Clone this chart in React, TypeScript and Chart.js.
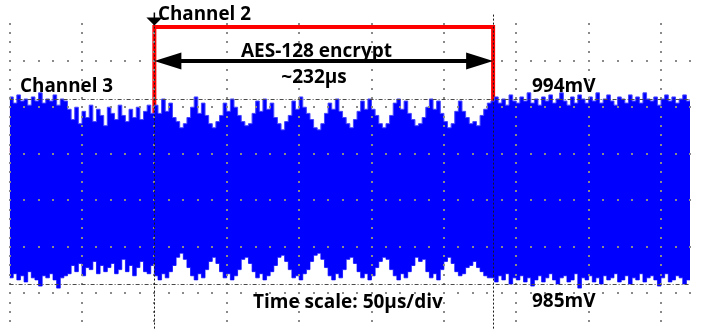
import { useEffect, useRef } from "react";
import { Chart, registerables } from "chart.js";

Chart.register(...registerables);

// ---- Data ----
// Channel 3 sampled every 2.5 µs from 0 to 470 µs (upper / lower noise envelope, mV)
const SAMPLE_STEP_US = 2.5;

const ch3Upper = [
  // 0 – 37.5 µs
  994.1, 993.8, 994.2, 993.9, 994.0, 993.7, 994.1, 993.9, 994.3, 993.8, 994.0, 993.9, 994.2, 993.7, 994.0, 993.9,
  // 40 – 97.5 µs
  993.5, 993.0, 993.6, 992.8, 993.4, 993.1, 993.7, 992.9, 993.5, 993.2, 992.7, 993.6,
  993.3, 993.0, 993.7, 993.2, 992.9, 993.5, 993.1, 993.6, 993.0, 993.4, 993.7, 993.3,
  // 100 – 330 µs (AES-128 encryption)
  993.7, 993.3, 994.0, 993.4, 993.8, 993.1, 992.9, 992.6, 992.8, 993.1,
  993.6, 994.1, 993.3, 993.8, 993.2, 992.8, 992.6, 992.9, 993.2, 993.8,
  993.4, 994.0, 993.6, 993.2, 992.9, 992.7, 992.8, 993.3, 993.9, 993.4,
  994.0, 993.5, 993.8, 993.1, 992.8, 992.5, 992.9, 993.2, 993.9, 993.5,
  994.1, 993.6, 993.3, 993.0, 992.6, 992.5, 992.8, 993.3, 993.8, 993.5,
  994.0, 993.4, 993.1, 992.8, 992.6, 993.0, 993.4, 993.9, 993.5, 994.0,
  993.5, 993.2, 992.8, 992.6, 992.8, 993.2, 993.8, 994.0, 993.5, 993.9,
  993.3, 993.0, 992.7, 992.8, 993.1, 993.6, 994.0, 993.5, 993.9, 993.3,
  992.9, 992.6, 992.8, 993.4, 993.9, 993.4, 993.1, 992.8, 992.9, 992.7,
  993.2, 993.5, 993.8,
  // 332.5 – 470 µs
  993.9, 994.1, 993.8, 994.0, 993.7, 994.2, 993.9, 993.8,
  994.1, 993.9, 994.3, 993.8, 994.0, 993.7, 994.1, 993.9,
  994.2, 993.8, 994.0, 994.3, 993.9, 993.7, 994.1, 993.8,
  994.2, 994.0, 993.8, 994.1, 993.9, 994.3, 993.8, 994.0,
  994.2, 993.9, 993.7, 994.1, 994.0, 993.8, 994.2, 993.9,
  994.1, 993.8, 994.3, 994.0, 993.9, 994.1, 993.7, 994.0,
  994.2, 993.9, 994.1, 993.8, 994.0, 994.2, 993.9, 994.0,
];

const ch3Lower = [
  // 0 – 37.5 µs
  985.3, 985.5, 985.2, 985.4, 985.1, 985.6, 985.3, 985.2, 984.9, 985.4, 985.3, 985.5, 985.2, 984.8, 985.3, 985.4,
  // 40 – 97.5 µs
  985.5, 985.9, 985.6, 986.0, 985.4, 985.8, 985.7, 986.1, 985.5, 985.9, 985.6, 985.8,
  986.0, 985.5, 985.7, 986.2, 985.6, 985.9, 985.4, 985.8, 986.1, 985.6, 985.5, 985.9,
  // 100 – 330 µs (AES-128 encryption)
  985.4, 985.2, 985.5, 985.3, 985.6, 985.9, 986.3, 986.5, 986.2, 985.8,
  985.4, 985.2, 985.5, 985.3, 985.7, 986.1, 986.3, 986.0, 985.6, 985.3,
  985.5, 985.2, 985.4, 985.7, 986.2, 986.3, 986.0, 985.6, 985.3, 985.5,
  985.2, 985.4, 985.6, 985.9, 986.3, 986.4, 986.1, 985.7, 985.3, 985.4,
  985.2, 985.5, 985.7, 986.1, 986.4, 986.5, 986.2, 985.8, 985.4, 985.2,
  985.5, 985.3, 985.7, 986.2, 986.3, 986.0, 985.6, 985.3, 985.5, 985.2,
  985.4, 985.8, 986.1, 986.3, 986.2, 985.7, 985.4, 985.2, 985.5, 985.3,
  985.6, 985.9, 986.3, 986.1, 986.2, 985.6, 985.3, 985.5, 985.2, 985.7,
  986.1, 986.3, 986.0, 985.6, 985.4, 985.5, 985.8, 985.9, 986.1, 985.8,
  985.6, 985.4, 985.3,
  // 332.5 – 470 µs
  985.3, 985.1, 985.4, 985.2, 985.5, 985.0, 985.3, 985.2,
  985.4, 985.1, 985.3, 984.9, 985.2, 985.4, 985.1, 985.3,
  985.5, 985.2, 985.0, 985.3, 985.4, 985.1, 985.2, 985.5,
  984.8, 985.3, 985.2, 985.4, 985.1, 985.3, 985.0, 985.4,
  985.2, 985.3, 985.5, 985.1, 985.2, 985.4, 985.0, 985.3,
  985.2, 985.5, 985.1, 985.3, 985.4, 985.2, 984.9, 985.3,
  985.5, 985.1, 985.2, 985.4, 985.3, 985.0, 985.2, 985.4,
];

// Channel 2 (trigger / encryption-active logic signal)
const ch2Times = [0, 100, 100, 334, 334, 470];
const ch2Levels = [0, 0, 1, 1, 0, 0];

// Cursors
const cursorTimes = [100, 334]; // µs
const cursorLevels = [994, 985]; // mV
const cursorLabels = ["994mV", "985mV"];

// Graticule
const timeGrid = [0, 50, 100, 150, 200, 250, 300, 350, 400, 450]; // µs, 50 µs/div
const voltGrid = [995.85, 993.59, 991.33, 989.08, 986.82, 984.56]; // mV
const SUBDIV = 5;

// Texts
const channel2Label = "Channel 2";
const channel3Label = "Channel 3";
const encryptLabel = "AES-128 encrypt";
const durationLabel = "~232µs";
const timeScaleLabel = "Time scale: 50µs/div";

// Text anchors in data coordinates (µs, mV)
const textMarks = [
  { text: channel2Label, t: 102.5, v: 997.84, align: "left", maxW: 93 },
  { text: encryptLabel, t: 212, v: 996.04, align: "center", maxW: 158 },
  { text: durationLabel, t: 210.3, v: 994.78, align: "center", maxW: 69 },
  { text: channel3Label, t: 7.2, v: 994.34, align: "left", maxW: 93 },
  { text: cursorLabels[0], t: 360.8, v: 994.34, align: "left", maxW: 67 },
  { text: cursorLabels[1], t: 360.8, v: 983.88, align: "left", maxW: 66 },
  { text: timeScaleLabel, t: 168.1, v: 983.83, align: "left", maxW: 198 },
];
const arrowLevel = 995.85; // mV

const FONT = 'bold 19px "Open Sans", "DejaVu Sans", sans-serif';
const GRID_COLOR = "#8a8a8a";

const scopePlugin = {
  id: "scopeAnnotations",
  afterDatasetsDraw(chart: any) {
    // dotted oscilloscope graticule, drawn over the trace
    const { ctx, chartArea, scales } = chart;
    const xs = scales.x;
    const ys = scales.y;
    const colPx = timeGrid.map((t) => xs.getPixelForValue(t));
    const rowPx = voltGrid.map((v) => ys.getPixelForValue(v));
    const dx = (colPx[1] - colPx[0]) / SUBDIV;
    const dy = (rowPx[1] - rowPx[0]) / SUBDIV;
    const bottom = chart.height;
    ctx.save();
    ctx.fillStyle = GRID_COLOR;
    colPx.forEach((px) => {
      const cx = Math.round(px) - 1;
      for (let y = rowPx[0]; y >= chartArea.top + 4; y -= dy) ctx.fillRect(cx, Math.round(y) - 1, 2, 2);
      for (let y = rowPx[0] + dy; y <= bottom; y += dy) ctx.fillRect(cx, Math.round(y) - 1, 2, 2);
    });
    rowPx.forEach((py) => {
      const cy = Math.round(py) - 1;
      for (let x = colPx[0]; x <= chartArea.right + 0.5; x += dx) ctx.fillRect(Math.round(x) - 1, cy, 2, 2);
    });
    ctx.restore();
  },
  afterDraw(chart: any) {
    const { ctx, chartArea, scales } = chart;
    const xs = scales.x;
    const ys = scales.y;
    const c2 = scales.ch2;
    ctx.save();

    // horizontal level cursors
    ctx.strokeStyle = "#4a4a4a";
    ctx.lineWidth = 1;
    ctx.setLineDash([4, 2, 1, 2]);
    cursorLevels.forEach((v) => {
      const py = Math.round(ys.getPixelForValue(v)) + 0.5;
      ctx.beginPath();
      ctx.moveTo(chartArea.left, py);
      ctx.lineTo(chartArea.right, py);
      ctx.stroke();
    });

    // vertical time cursors
    ctx.strokeStyle = "#1a1a1a";
    ctx.lineWidth = 1;
    ctx.setLineDash([2, 2]);
    cursorTimes.forEach((t) => {
      const px = Math.round(xs.getPixelForValue(t)) + 0.5;
      ctx.beginPath();
      ctx.moveTo(px, chartArea.top);
      ctx.lineTo(px, chart.height);
      ctx.stroke();
    });
    ctx.setLineDash([]);

    // trigger marker
    const tx = xs.getPixelForValue(cursorTimes[0]);
    const tip = c2.getPixelForValue(1) - 1.5;
    ctx.fillStyle = "#000";
    ctx.strokeStyle = "#000";
    ctx.lineWidth = 1.5;
    ctx.beginPath();
    ctx.moveTo(tx, tip - 13);
    ctx.lineTo(tx, tip - 6);
    ctx.stroke();
    ctx.beginPath();
    ctx.moveTo(tx, tip);
    ctx.lineTo(tx - 8, tip - 8);
    ctx.lineTo(tx + 8, tip - 8);
    ctx.closePath();
    ctx.fill();

    // double-headed duration arrow
    const ay = ys.getPixelForValue(arrowLevel);
    const x1 = xs.getPixelForValue(cursorTimes[0]);
    const x2 = xs.getPixelForValue(cursorTimes[1]);
    const headL = 27;
    const headW = 8.5;
    ctx.lineWidth = 4;
    ctx.beginPath();
    ctx.moveTo(x1 + headL - 2, ay);
    ctx.lineTo(x2 - headL + 2, ay);
    ctx.stroke();
    ctx.beginPath();
    ctx.moveTo(x1, ay);
    ctx.lineTo(x1 + headL, ay - headW);
    ctx.lineTo(x1 + headL, ay + headW);
    ctx.closePath();
    ctx.fill();
    ctx.beginPath();
    ctx.moveTo(x2, ay);
    ctx.lineTo(x2 - headL, ay - headW);
    ctx.lineTo(x2 - headL, ay + headW);
    ctx.closePath();
    ctx.fill();

    // texts
    ctx.font = FONT;
    ctx.fillStyle = "#000";
    ctx.textBaseline = "alphabetic";
    textMarks.forEach((m) => {
      ctx.textAlign = m.align as CanvasTextAlign;
      ctx.fillText(m.text, xs.getPixelForValue(m.t), ys.getPixelForValue(m.v), m.maxW);
    });

    ctx.restore();
  },
};

export default function App() {
  const canvasRef = useRef<HTMLCanvasElement | null>(null);

  useEffect(() => {
    if (!canvasRef.current) return;
    const upperPts = ch3Upper.map((v, i) => ({ x: i * SAMPLE_STEP_US, y: v }));
    const lowerPts = ch3Lower.map((v, i) => ({ x: i * SAMPLE_STEP_US, y: v }));
    const ch2Pts = ch2Times.map((t, i) => ({ x: t, y: ch2Levels[i] }));

    const chart = new Chart(canvasRef.current, {
      type: "line",
      data: {
        datasets: [
          {
            label: "Channel 3 low",
            data: lowerPts,
            borderColor: "#4646ff",
            borderWidth: 1,
            pointRadius: 0,
            stepped: true,
            fill: false,
            order: 2,
            yAxisID: "y",
          },
          {
            label: "Channel 3",
            data: upperPts,
            borderColor: "#4646ff",
            borderWidth: 1,
            backgroundColor: "#0000ff",
            pointRadius: 0,
            stepped: true,
            fill: "-1",
            order: 1,
            yAxisID: "y",
          },
          {
            label: "Channel 2",
            data: ch2Pts,
            borderColor: "#ff0000",
            borderWidth: 4,
            pointRadius: 0,
            fill: false,
            order: 10,
            yAxisID: "ch2",
          },
        ],
      },
      options: {
        animation: false,
        responsive: false,
        devicePixelRatio: 1,
        layout: { padding: { left: 9.6, right: 15, top: 14.6, bottom: 0 } },
        plugins: {
          legend: { display: false },
          tooltip: { enabled: false },
        },
        scales: {
          x: {
            type: "linear",
            min: 0,
            max: 470,
            ticks: { display: false },
            grid: { display: false, drawTicks: false },
            border: { display: false },
          },
          y: {
            type: "linear",
            min: 982.811,
            max: 998.106,
            ticks: { display: false },
            grid: { display: false, drawTicks: false },
            border: { display: false },
          },
          ch2: {
            type: "linear",
            display: false,
            min: -1.455,
            max: 1.101,
          },
        },
      },
      plugins: [scopePlugin],
    });
    return () => chart.destroy();
  }, []);

  return (
    <div style={{ position: "absolute", left: 0, top: 0, width: 705, height: 329, background: "#fff" }}>
      <canvas ref={canvasRef} width={705} height={329} style={{ display: "block" }} />
    </div>
  );
}
